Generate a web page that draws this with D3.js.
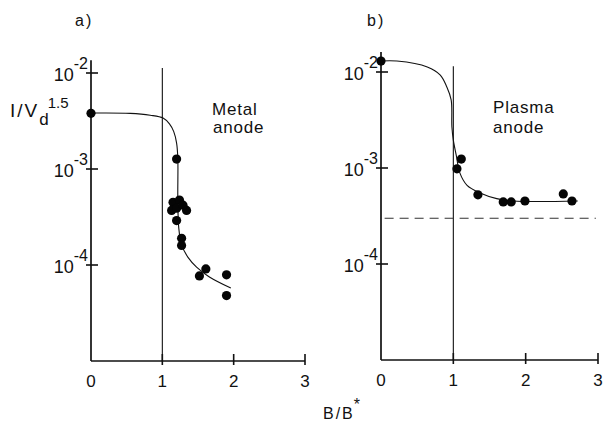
<!DOCTYPE html>
<html>
<head>
<meta charset="utf-8">
<title>Metal anode / Plasma anode</title>
<script src="https://d3js.org/d3.v7.min.js"></script>
<style>
html, body { margin:0; background:#fff; }
svg text { font-family: "Liberation Sans Narrow", "Liberation Sans", Arial, sans-serif; fill:#111; }
</style>
</head>
<body>
<svg id="chart" width="603" height="423"></svg>
<script>
// tick values
var xTicks = [0, 1, 2, 3];
var yTicks = [1e-4, 1e-3, 1e-2];
var yTickExp = ["-4", "-3", "-2"];

// a) metal anode: measured points
var metalB = [0, 1.20, 1.15, 1.24, 1.13, 1.20, 1.34, 1.29, 1.20, 1.27, 1.27, 1.52, 1.61, 1.90, 1.90];
var metalI = [3.8e-3, 1.27e-3, 4.5e-4, 4.75e-4, 3.7e-4, 3.9e-4, 3.7e-4, 4.2e-4, 2.9e-4, 1.9e-4, 1.6e-4, 7.7e-5, 9.1e-5, 7.9e-5, 4.8e-5];
// a) hand-drawn curve through them
var metalFitB = [0, 0.55, 0.83, 1.01, 1.10, 1.16, 1.20, 1.217, 1.217, 1.23, 1.27, 1.36, 1.48, 1.66, 1.96];
var metalFitI = [3.83e-3, 3.8e-3, 3.63e-3, 3.39e-3, 2.95e-3, 2.45e-3, 1.86e-3, 1.30e-3, 4.8e-4, 2.45e-4, 1.62e-4, 1.2e-4, 9.5e-5, 7.5e-5, 5.75e-5];

// b) plasma anode
var plasmaB = [0, 1.05, 1.11, 1.34, 1.69, 1.80, 1.99, 2.52, 2.64];
var plasmaI = [1.30e-2, 9.8e-4, 1.24e-3, 5.25e-4, 4.43e-4, 4.43e-4, 4.53e-4, 5.37e-4, 4.53e-4];
var plasmaFitB = [0, 0.22, 0.64, 0.82, 0.91, 0.97, 0.98, 1.00, 1.04, 1.09, 1.19, 1.37, 1.60, 1.83, 2.72];
var plasmaFitI = [1.30e-2, 1.30e-2, 1.13e-2, 9.3e-3, 6.98e-3, 5.13e-3, 2.69e-3, 1.95e-3, 1.36e-3, 8.9e-4, 6.6e-4, 5.5e-4, 4.8e-4, 4.53e-4, 4.53e-4];
var plasmaRef = 3.0e-4;   // dashed level

var svg = d3.select("#chart");
var ink = "#111";

function panel(o) {
	var x = d3.scaleLinear().domain([0, 3]).range(o.xr);
	var y = d3.scaleLog().domain([1e-5, 1e-2]).range(o.yr);
	var g = svg.append("g");

	// axes
	g.append("line").attr("x1", x(0)).attr("x2", x(3)).attr("y1", y(1e-5)).attr("y2", y(1e-5))
		.attr("stroke", ink).attr("stroke-width", 1.7);
	g.append("line").attr("x1", x(0)).attr("x2", x(0)).attr("y1", y(1e-5)).attr("y2", y(o.axisTop))
		.attr("stroke", ink).attr("stroke-width", 1.7);

	// x ticks + labels
	g.selectAll(".xt").data(xTicks.slice(1)).enter().append("line").attr("class", "xt")
		.attr("x1", function(d){ return x(d); }).attr("x2", function(d){ return x(d); })
		.attr("y1", y(1e-5) - 7).attr("y2", y(1e-5) + 4)
		.attr("stroke", ink).attr("stroke-width", 1.6);
	g.selectAll(".xl").data(xTicks).enter().append("text").attr("class", "xl")
		.attr("x", function(d){ return x(d); }).attr("y", y(1e-5) + 26)
		.attr("text-anchor", "middle").attr("font-size", 17)
		.text(function(d){ return d; });

	// y ticks (cross the axis) + labels
	g.selectAll(".yt").data(yTicks).enter().append("line").attr("class", "yt")
		.attr("x1", x(0) - 5).attr("x2", x(0) + 7)
		.attr("y1", function(d){ return y(d); }).attr("y2", function(d){ return y(d); })
		.attr("stroke", ink).attr("stroke-width", 1.6);
	var yl = g.selectAll(".yl").data(yTicks).enter().append("text").attr("class", "yl")
		.attr("x", x(0) - 3).attr("y", function(d){ return y(d) + 8; })
		.attr("text-anchor", "end").attr("font-size", 18);
	yl.append("tspan").text("10");
	yl.append("tspan").attr("font-size", 16).attr("dy", -12)
		.text(function(d, i){ return yTickExp[i]; });

	// vertical line at B/B* = 1
	g.append("line").attr("x1", x(1)).attr("x2", x(1)).attr("y1", y(1e-5)).attr("y2", y(o.vTop))
		.attr("stroke", ink).attr("stroke-width", 1.1);

	// fit curve
	var line = d3.line()
		.x(function(d){ return x(d[0]); }).y(function(d){ return y(d[1]); })
		.curve(d3.curveCatmullRom.alpha(0.5));
	g.append("path").datum(d3.zip(o.fitB, o.fitI)).attr("d", line)
		.attr("fill", "none").attr("stroke", ink).attr("stroke-width", 1.1);

	// points
	g.selectAll(".pt").data(d3.zip(o.b, o.i)).enter().append("circle").attr("class", "pt")
		.attr("cx", function(d){ return x(d[0]); }).attr("cy", function(d){ return y(d[1]); })
		.attr("r", 4.6).attr("fill", "#050505");

	return { x: x, y: y, g: g };
}

var pa = panel({ xr: [91, 305], yr: [361, 73], axisTop: 1.36e-2, vTop: 1.13e-2,
	b: metalB, i: metalI, fitB: metalFitB, fitI: metalFitI });
var pb = panel({ xr: [381, 598], yr: [360, 72], axisTop: 1.62e-2, vTop: 1.15e-2,
	b: plasmaB, i: plasmaI, fitB: plasmaFitB, fitI: plasmaFitI });

// dashed level in b)
pb.g.append("line").attr("x1", pb.x(0.05)).attr("x2", pb.x(2.97))
	.attr("y1", pb.y(plasmaRef)).attr("y2", pb.y(plasmaRef))
	.attr("stroke", "#333").attr("stroke-width", 1.1).attr("stroke-dasharray", "9,6");

// panel letters and notes
svg.append("text").attr("x", 75).attr("y", 26).attr("font-size", 16).attr("letter-spacing", 2).text("a)");
svg.append("text").attr("x", 367).attr("y", 26).attr("font-size", 16).attr("letter-spacing", 2).text("b)");

var notes = [["Metal", 212, 115], ["anode", 213, 133], ["Plasma", 493, 113], ["anode", 493, 133]];
svg.selectAll(".note").data(notes).enter().append("text").attr("class", "note")
	.attr("x", function(d){ return d[1]; }).attr("y", function(d){ return d[2]; })
	.attr("font-size", 17).attr("letter-spacing", 0.8)
	.text(function(d){ return d[0]; });

// y axis title I/V_d^1.5
var yt = svg.append("text").attr("x", 10).attr("y", 117).attr("font-size", 19).attr("letter-spacing", 2);
yt.append("tspan").text("I/V");
yt.append("tspan").attr("dy", 8).attr("dx", 0).attr("font-size", 17).attr("letter-spacing", 0).text("d");
yt.append("tspan").attr("dy", -17).attr("dx", -1).attr("font-size", 15).attr("letter-spacing", 0).text("1.5");

// x axis title B/B*
var xt = svg.append("text").attr("x", 323).attr("y", 419).attr("font-size", 16).attr("letter-spacing", 2);
xt.append("tspan").text("B/B");
xt.append("tspan").attr("dy", -9).attr("dx", -1).attr("font-size", 16).text("*");
</script>
</body>
</html>
